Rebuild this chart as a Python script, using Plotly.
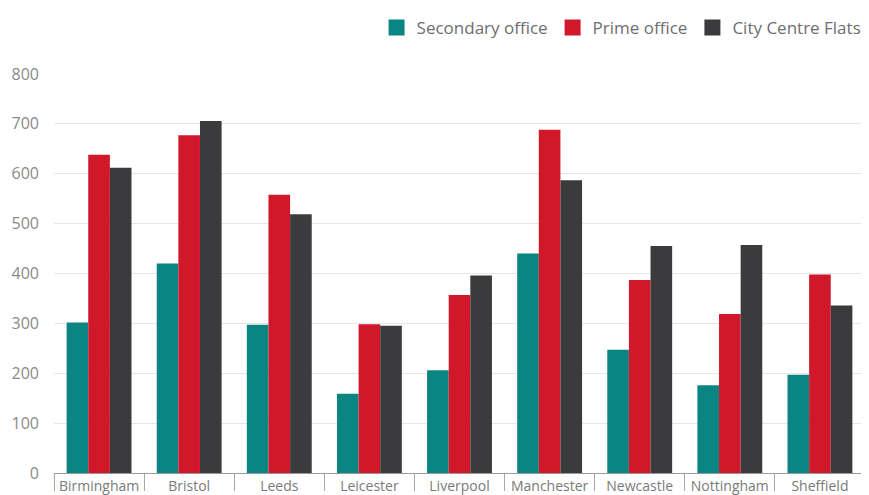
import plotly.graph_objects as go

cities = ["Birmingham", "Bristol", "Leeds", "Leicester", "Liverpool",
          "Manchester", "Newcastle", "Nottingham", "Sheffield"]
secondary_office = [302, 420, 297, 159, 206, 440, 247, 176, 197]
prime_office = [638, 677, 558, 298, 357, 688, 387, 319, 398]
city_centre_flats = [612, 706, 519, 295, 396, 587, 455, 457, 336]
y_ticks = [0, 100, 200, 300, 400, 500, 600, 700, 800]

series = [("Secondary office", secondary_office, "#0b8582"),
          ("Prime office", prime_office, "#d0182a"),
          ("City Centre Flats", city_centre_flats, "#3b3b3d")]

FONT = "Open Sans"
fig = go.Figure()
for name, vals, col in series:
    fig.add_trace(go.Bar(name=name, x=cities, y=vals, legendgroup=name, showlegend=False,
                         marker=dict(color=col, line=dict(width=0))))
for name, vals, col in series:
    # legend-only entry with a larger square swatch
    fig.add_trace(go.Scatter(name=name, x=[None], y=[None], mode="markers", legendgroup=name,
                             marker=dict(symbol="square", size=18, color=col)))

fig.update_layout(
    width=869, height=495,
    margin=dict(l=46, r=12, t=65.5, b=29.5, autoexpand=False),
    paper_bgcolor="white", plot_bgcolor="white",
    barmode="group", bargap=0.28, bargroupgap=0,
    font=dict(family=FONT, color="#7a7a7a"),
    legend=dict(orientation="h", xref="container", yref="container",
                x=0.988, xanchor="right", y=0.9596, yanchor="middle",
                font=dict(size=17, color="#6e6e6e", family=FONT),
                itemwidth=30, tracegroupgap=0, traceorder="normal", itemsizing="trace"),
    xaxis=dict(showline=True, linecolor="#9a9a9a", linewidth=1, automargin=False,
               tickson="boundaries", ticks="outside", ticklen=17, tickcolor="#a8a8a8",
               tickfont=dict(size=14, color="#7a7a7a", family=FONT),
               showgrid=False, fixedrange=True),
    yaxis=dict(range=[0, 800], tickvals=y_ticks, showgrid=True, gridcolor="#e6e6e6",
               gridwidth=1, zeroline=False, showline=False, automargin=False,
               tickfont=dict(size=16, color="#8a8a8a", family=FONT),
               ticklabelstandoff=14),
)
fig.write_html("out.html")
